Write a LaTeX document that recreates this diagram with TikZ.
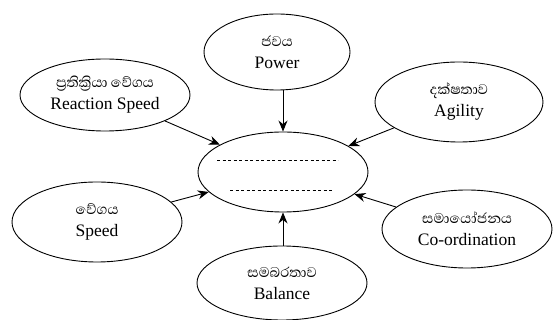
\documentclass[tikz,border=0pt]{standalone}
\usepackage{fontspec}
\setmainfont{Liberation Serif}
\newfontfamily\sinhalafont[Script=Sinhala]{Abhaya Libre}
\usetikzlibrary{shapes.geometric,arrows.meta}
\begin{document}
\begin{tikzpicture}[x=1pt,y=-1pt,
  oval/.style={draw,line width=0.9pt,ellipse,minimum width=170pt,minimum height=78pt,inner sep=0pt,align=center,font=\fontsize{17.5}{18}\selectfont},
  link/.style={draw,line width=0.9pt,-{Stealth[length=11pt,width=9pt]}},
  dots/.style={line width=0.8pt,dash pattern=on 3pt off 2.5pt}]
\useasboundingbox (0,0) rectangle (558,320);
\newcommand{\silab}[1]{{\sinhalafont\fontsize{18}{16}\selectfont #1}\\[4pt]}
\node[oval,minimum width=146pt,minimum height=76pt] (power) at (277,52) {\silab{ජවය}Power};
\node[oval,minimum height=72pt] (react) at (105,95) {\silab{ප්‍රතික්‍රියා වේගය}Reaction Speed};
\node[oval,minimum width=168pt,minimum height=80pt] (agil) at (459,102) {\silab{දක්ෂතාව}Agility};
\node[oval,minimum height=80pt] (core) at (283,172) {};
\node[oval,minimum height=80pt] (speed) at (97,222) {\silab{වේගය}Speed};
\node[oval,minimum height=78pt] (coord) at (467,229) {\silab{සමායෝජනය}Co-ordination};
\node[oval,minimum height=74pt] (bal) at (282,283) {\silab{සමබරතාව}Balance};
\coordinate (d1a) at (217,160); \coordinate (d1b) at (338,160);
\coordinate (d2a) at (230,190); \coordinate (d2b) at (334,190);
\draw[dots] (d1a) -- (d1b);
\draw[dots] (d2a) -- (d2b);
\draw[link] (power.south -| core.north) -- (core.north);
\draw[link] (bal.north -| core.south) -- (core.south);
\draw[link] (react) -- (core);
\draw[link] (agil) -- (core);
\draw[link] (speed) -- (core);
\draw[link] (coord) -- (core);
\end{tikzpicture}
\end{document}
